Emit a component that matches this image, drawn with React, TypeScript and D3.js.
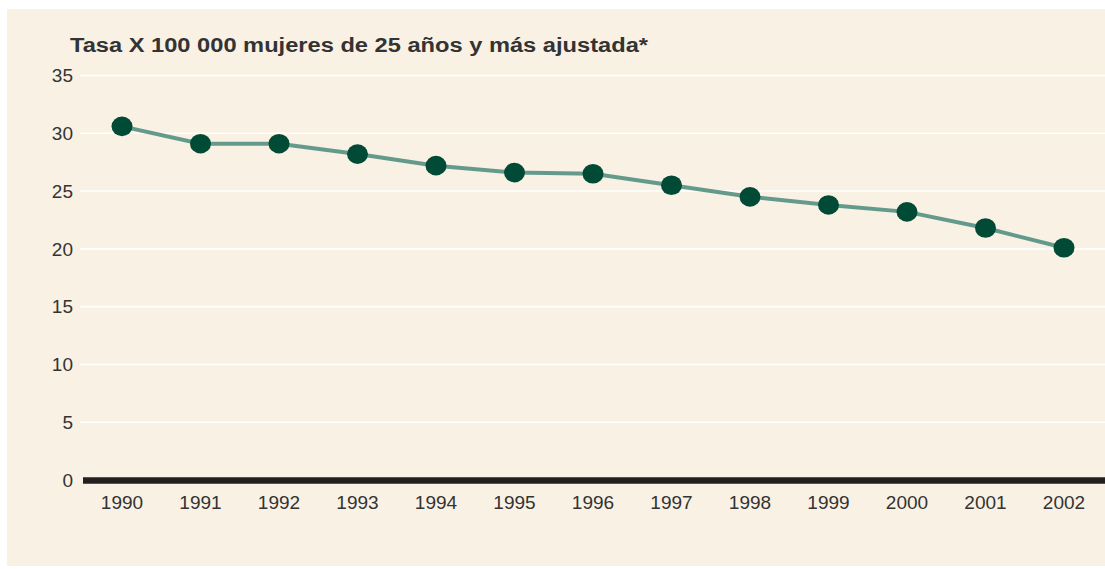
import { useMemo } from 'react';
import * as d3 from 'd3';

const years = ['1990', '1991', '1992', '1993', '1994', '1995', '1996', '1997', '1998', '1999', '2000', '2001', '2002'];
const rates = [30.6, 29.1, 29.1, 28.2, 27.2, 26.6, 26.5, 25.5, 24.5, 23.8, 23.2, 21.8, 20.1];
const yTicks = [0, 5, 10, 15, 20, 25, 30, 35];
const title = 'Tasa X 100 000 mujeres de 25 años y más ajustada*';

const W = 1105;
const H = 569;

export default function App(): React.JSX.Element {
  const x = useMemo(
    () => d3.scalePoint<string>().domain(years).range([122, 1064]),
    []
  );
  const y = useMemo(() => d3.scaleLinear().domain([0, 35]).range([480, 75.5]), []);

  const line = d3.line<number>()
    .x((_, i) => x(years[i]) ?? 0)
    .y(d => y(d));

  return (
    <svg
      width={W}
      height={H}
      style={{ position: 'absolute', left: 0, top: 0, fontFamily: '"Liberation Sans", Arial, sans-serif' }}
    >
      <rect x={0} y={0} width={W} height={H} fill="#ffffff" />
      <rect x={7} y={9} width={W - 7} height={557} fill="#f9f1e3" />

      {/* title */}
      <text x={70} y={52} fontSize={19.5} fontWeight="bold" fill="#333333" textLength={578} lengthAdjust="spacingAndGlyphs">
        {title}
      </text>

      {/* gridlines + y labels */}
      {yTicks.map(t => (
        <g key={t}>
          {t > 0 && (
            <line x1={80} x2={W} y1={y(t)} y2={y(t)} stroke="#ffffff" strokeWidth={1.6} />
          )}
          <text x={73} y={y(t)} dy="0.36em" textAnchor="end" fontSize={19} fill="#333333">
            {t}
          </text>
        </g>
      ))}

      {/* baseline */}
      <line x1={83} x2={W} y1={y(0) + 0.5} y2={y(0) + 0.5} stroke="#231f20" strokeWidth={6.5} />

      {/* x labels */}
      {years.map(yr => (
        <text key={yr} x={x(yr)} y={509} textAnchor="middle" fontSize={19} fill="#333333">
          {yr}
        </text>
      ))}

      {/* series */}
      <path d={line(rates) ?? ''} fill="none" stroke="#639a8c" strokeWidth={4} />
      {rates.map((v, i) => (
        <ellipse key={years[i]} cx={x(years[i])} cy={y(v)} rx={10.5} ry={9.8} fill="#004a36" />
      ))}
    </svg>
  );
}
